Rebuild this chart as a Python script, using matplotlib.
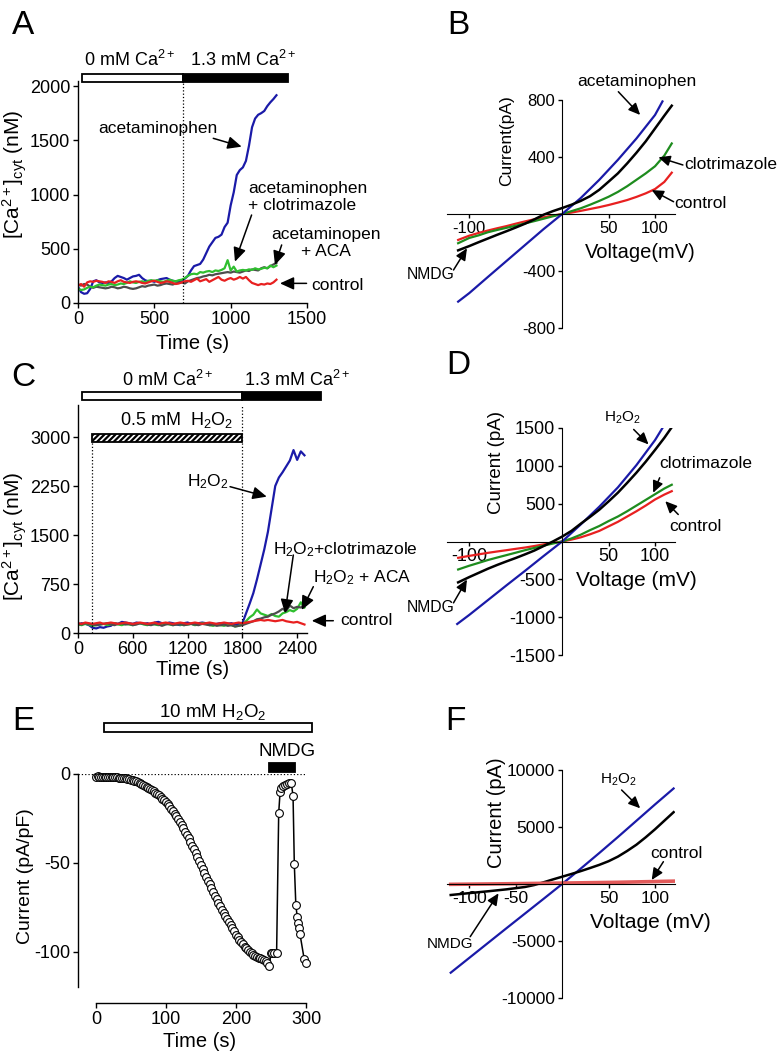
import matplotlib
matplotlib.use("Agg")
import matplotlib.pyplot as plt
from matplotlib.patches import Rectangle
import numpy as np

plt.rcParams['font.family'] = ['Liberation Sans', 'DejaVu Sans']
plt.rcParams['mathtext.fontset'] = 'custom'
plt.rcParams['mathtext.rm'] = 'Liberation Sans'
plt.rcParams['mathtext.it'] = 'Liberation Sans:italic'
plt.rcParams['mathtext.default'] = 'regular'
plt.rcParams['axes.unicode_minus'] = False
plt.rcParams['hatch.linewidth'] = 1.6

W, H = 783, 1056

# ---------------- data ----------------
# A: [Ca2+]cyt (nM), one sample every 20 s from 0 to 1300 s
t_a = np.arange(0, 1301, 20)
a_acet = [150, 100, 85, 90, 130, 200, 210, 190, 185, 190,
          185, 200, 230, 250, 240, 230, 215, 230, 245, 250,
          260, 230, 210, 200, 205, 195, 210, 220, 225, 230,
          215, 205, 200, 195, 205, 225, 250, 300, 340, 350,
          360, 400, 460, 520, 560, 600, 610, 630, 700, 740,
          900, 1020, 1180, 1225, 1250, 1310, 1450, 1620, 1700, 1735,
          1750, 1770, 1815, 1850, 1880, 1915]
a_clotri = [130, 120, 125, 140, 150, 145, 160, 170, 165, 160,
            170, 175, 165, 170, 180, 175, 185, 200, 190, 185,
            195, 200, 190, 205, 210, 205, 210, 200, 195, 205,
            215, 205, 200, 210, 215, 230, 250, 265, 270, 265,
            285, 280, 290, 295, 285, 300, 295, 305, 320, 395,
            300, 335, 290, 300, 305, 300, 310, 305, 320, 310,
            315, 325, 320, 345, 330, 345]
a_aca = [170, 160, 175, 170, 150, 140, 150, 145, 140, 135,
         140, 150, 145, 135, 140, 150, 145, 135, 130, 135,
         145, 155, 150, 160, 165, 170, 160, 165, 175, 180,
         175, 170, 180, 185, 190, 180, 200, 210, 220, 230,
         235, 245, 250, 260, 255, 265, 270, 275, 280, 285,
         280, 290, 285, 280, 290, 300, 295, 310, 305, 300,
         320, 330, 320, 340, 355, 370]
a_control = [160, 175, 150, 190, 200, 195, 205, 200, 195, 185,
             200, 195, 185, 200, 210, 195, 190, 185, 195, 200,
             195, 185, 180, 190, 200, 205, 195, 185, 190, 200,
             195, 185, 175, 180, 190, 200, 205, 195, 210, 225,
             200, 210, 220, 195, 210, 225, 240, 215, 205, 220,
             230, 215, 225, 240, 225, 240, 210, 185, 175, 165,
             175, 170, 180, 175, 190, 215]
a_bar = (26, 688, 1375)          # 0 mM Ca start, switch to 1.3 mM, end

# C: [Ca2+]cyt (nM), one sample every 40 s from 0 to 2480 s
t_c = np.arange(0, 2481, 40)
c_h2o2 = [130, 150, 140, 120, 80, 70, 90, 80, 100, 110,
          150, 140, 170, 160, 150, 140, 160, 150, 140, 150,
          130, 160, 170, 150, 140, 160, 150, 130, 120, 150,
          160, 140, 130, 150, 160, 150, 140, 120, 140, 150,
          130, 140, 150, 130, 140, 150, 300, 450, 610, 820,
          1050, 1280, 1550, 1900, 2250, 2380, 2460, 2550, 2640, 2800,
          2650, 2780, 2720]
c_aca = [130, 120, 140, 130, 110, 120, 130, 140, 120, 130,
         150, 130, 120, 140, 130, 120, 140, 150, 130, 120,
         140, 130, 120, 140, 150, 130, 120, 140, 130, 120,
         130, 140, 120, 130, 150, 140, 120, 110, 130, 120,
         110, 130, 120, 100, 110, 130, 180, 240, 280, 360,
         300, 280, 260, 290, 260, 250, 300, 320, 350, 330,
         370, 470, 390]
c_clotri = [140, 130, 150, 140, 130, 120, 130, 140, 150, 130,
            120, 140, 150, 130, 140, 120, 130, 150, 140, 130,
            120, 140, 130, 110, 130, 140, 120, 130, 140, 120,
            130, 140, 130, 120, 140, 130, 120, 130, 110, 120,
            130, 110, 120, 100, 110, 120, 140, 160, 180, 210,
            220, 240, 250, 280, 300, 330, 370, 340, 420, 380,
            400, 390, 430]
c_control = [150, 140, 160, 150, 140, 150, 160, 140, 150, 160,
             150, 140, 150, 160, 150, 140, 150, 160, 150, 140,
             150, 160, 140, 150, 160, 150, 140, 150, 160, 150,
             140, 150, 160, 150, 140, 150, 160, 150, 140, 150,
             160, 150, 140, 150, 160, 150, 160, 170, 180, 190,
             200, 190, 200, 190, 180, 190, 200, 180, 170, 160,
             170, 150, 130]
c_bar = (44, 1800, 2660)
c_h2o2_bar = (150, 1800)

# E: current density (pA/pF)
t_e_ramp = np.arange(0, 250, 2.5)
e_ramp = [-1.5, -1.4, -1.6, -1.5, -1.7, -1.6, -1.5, -1.8, -1.7, -1.6,
          -1.8, -1.7, -1.9, -2.0, -2.2, -2.0, -2.5, -2.3, -2.6, -2.9,
          -3.2, -3.5, -3.8, -4.2, -4.6, -5.0, -5.5, -6.0, -6.6, -7.2,
          -7.8, -8.4, -9.1, -9.8, -10.5, -11.3, -12.1, -13.0, -13.9, -14.9,
          -16.0, -17.1, -18.3, -19.6, -20.9, -22.3, -23.8, -25.4, -27.0, -28.7,
          -30.5, -32.4, -34.3, -36.3, -38.3, -40.4, -42.5, -44.6, -46.8, -49.0,
          -51.2, -53.4, -55.6, -57.8, -60.0, -62.2, -64.3, -66.4, -68.5, -70.6,
          -72.6, -74.6, -76.5, -78.4, -80.2, -81.9, -83.6, -85.2, -86.8, -88.3,
          -90.5, -92.0, -93.4, -94.7, -96.0, -97.2, -98.3, -99.3, -100.2, -101.0,
          -101.7, -102.3, -102.9, -103.4, -103.9, -104.4, -104.9, -105.5, -106.4, -108.0]
t_e_tail = [250, 252, 255, 258, 261, 263, 265, 267, 270, 273, 276, 279,
            281.5, 283.3, 285.5, 287.5, 288.8, 290, 291.5, 297.5, 300]
e_tail = [-101, -101, -101, -101, -22, -10, -8, -7, -6, -5.5, -5, -5,
          -12.4, -50.7, -74, -80.5, -84, -87, -90.4, -104.5, -106.7]
e_h2o2_bar = (11, 308)
e_nmdg_bar = (247, 284)

# I-V curves (mV, pA)
iv_v = [-112, -100, -90, -80, -70, -60, -50, -40, -30, -20, -10, 0,
        10, 20, 30, 40, 50, 60, 70, 80, 90, 100, 110, 118]
b_v_acet = [-112, -100, -80, -60, -40, -20, 0, 20, 40, 60, 80, 100, 108]
b_acet = [-615, -555, -442, -330, -218, -106, 0, 112, 240, 380, 530, 695, 790]
b_nmdg = [-255, -225, -198, -172, -146, -121, -95, -68, -38, -5, 20, 42,
          65, 92, 125, 170, 227, 285, 355, 430, 510, 600, 690, 760]
b_clotri = [-205, -168, -150, -128, -112, -97, -82, -66, -50, -33, -16, 0,
            20, 40, 65, 92, 121, 155, 195, 240, 285, 335, 410, 495]
b_control = [-182, -152, -133, -116, -100, -85, -68, -52, -37, -23, -11, 0,
             10, 22, 35, 48, 63, 80, 98, 120, 145, 175, 225, 290]

d_v_h2o2 = [-113, -100, -80, -60, -40, -20, 0, 20, 40, 60, 80, 100, 108]
d_h2o2 = [-1090, -970, -775, -580, -388, -192, 0, 225, 460, 715, 1010, 1340, 1500]
d_nmdg = [-540, -470, -415, -360, -310, -263, -218, -170, -120, -60, 0, 65,
          140, 235, 325, 420, 530, 645, 775, 910, 1055, 1210, 1370, 1510]
d_clotri = [-370, -320, -283, -245, -212, -180, -148, -115, -85, -55, -27, 0,
            40, 90, 150, 205, 270, 330, 400, 475, 550, 625, 700, 750]
d_control = [-216, -190, -170, -150, -132, -115, -97, -80, -60, -38, -18, 0,
             25, 55, 95, 140, 200, 260, 330, 400, 475, 555, 620, 665]

f_v_nmdg = [-120, -100, -80, -60, -40, -30, -20, -10, 0, 10, 20, 30, 40,
            50, 60, 70, 80, 90, 100, 110, 120]
f_nmdg = [-965, -800, -640, -470, -260, -90, 150, 400, 640, 880, 1130, 1400,
          1680, 2000, 2400, 2900, 3450, 4100, 4800, 5550, 6300]
f_v_h2o2 = [-120, -100, -80, -60, -40, -20, 0, 20, 40, 60, 80, 100, 120]
f_h2o2 = [-7780, -6480, -5180, -3880, -2590, -1300, 0, 1350, 2720, 4120, 5550, 6980, 8380]
f_v_control = [-120, -60, 0, 60, 120]
f_control = [-30, 20, 80, 150, 250]

BLUE = '#1a1aa8'
GREEN_A = '#2fbf2f'
GREEN_IV = '#1e8c1e'
RED = '#e82020'
GRAY = '#4d4d4d'
PINK = '#e25a5a'


def box(x0, y0, x1, y1):
    return [x0 / W, 1 - y1 / H, (x1 - x0) / W, (y1 - y0) / H]


def arrow(ax, tail, head, scale=12):
    ax.annotate('', xy=head, xytext=tail, annotation_clip=False,
                arrowprops=dict(arrowstyle='-|>,head_length=0.7,head_width=0.32',
                                mutation_scale=scale, color='k', lw=1.1,
                                shrinkA=0, shrinkB=0))


def style_time(ax):
    for s in ['top', 'right']:
        ax.spines[s].set_visible(False)
    for s in ['left', 'bottom']:
        ax.spines[s].set_linewidth(1.0)
    ax.tick_params(direction='out', length=3.5, width=1, labelsize=13, pad=2)


def style_iv(ax, ylim, yticks, xticks, size):
    ax.set_xlim(-124, 121.5)
    ax.set_ylim(*ylim)
    for s in ['top', 'right']:
        ax.spines[s].set_visible(False)
    ax.spines['left'].set_position(('data', 0))
    ax.spines['bottom'].set_position(('data', 0))
    ax.set_xticks(xticks)
    ax.set_yticks(yticks)
    ax.tick_params(direction='out', length=3, width=1, labelsize=size, pad=2)
    ax.patch.set_visible(False)


def bar(ax, x0, x1, y0, y1, color, hatch=None):
    ax.add_patch(Rectangle((x0, y0), x1 - x0, y1 - y0, facecolor=color,
                           edgecolor='k', lw=1.3, hatch=hatch, clip_on=False))


fig = plt.figure(figsize=(W / 100, H / 100), dpi=100)

# ---------------- A ----------------
ax = fig.add_axes(box(78, 80.6, 307, 303))
style_time(ax)
ax.plot(t_a, a_acet, color=BLUE, lw=1.6)
ax.plot(t_a, a_aca, color=GRAY, lw=1.6)
ax.plot(t_a, a_clotri, color=GREEN_A, lw=1.6)
ax.plot(t_a, a_control, color=RED, lw=1.6)
ax.set_xlim(0, 1500)
ax.set_ylim(0, 2050)
ax.set_xticks([0, 500, 1000, 1500])
ax.set_yticks([0, 500, 1000, 1500, 2000])
ax.vlines(a_bar[1], 0, 2040, colors='k', linestyles=':', lw=0.9)
bar(ax, a_bar[0], a_bar[1], 2040, 2110, 'white')
bar(ax, a_bar[1], a_bar[2], 2040, 2110, 'black')
ax.text(340, 2240, '0 mM Ca$^{2+}$', ha='center', va='center', fontsize=13)
ax.text(1080, 2240, '1.3 mM Ca$^{2+}$', ha='center', va='center', fontsize=13)
ax.set_xlabel('Time (s)', fontsize=14.5, va='center')
ax.xaxis.set_label_coords(0.5, -0.18)
ax.set_ylabel('[Ca$^{2+}$]$_{cyt}$ (nM)', fontsize=15, va='center')
ax.yaxis.set_label_coords(-0.275, 0.58)
ax.text(524, 1613, 'acetaminophen', ha='center', va='center', fontsize=12.5)
arrow(ax, (886, 1518), (1072, 1441))
ax.text(1115, 977, 'acetaminophen\n+ clotrimazole', ha='left', va='center',
        fontsize=12.5, linespacing=1.15)
arrow(ax, (1137, 811), (1028, 381))
ax.text(1624, 553, 'acetaminopen\n+ ACA', ha='center', va='center',
        multialignment='center', fontsize=12.5, linespacing=1.15)
arrow(ax, (1334, 535), (1290, 350))
ax.text(1530, 157, 'control', ha='left', va='center', fontsize=12.5)
arrow(ax, (1497, 181), (1323, 181))

# ---------------- B ----------------
ax = fig.add_axes(box(447, 100, 675, 328))
style_iv(ax, (-800, 800), [-800, -400, 400, 800], [-100, 50, 100], 12)
ax.plot(iv_v, b_control, color=RED, lw=1.6)
ax.plot(iv_v, b_clotri, color=GREEN_IV, lw=1.6)
ax.plot(b_v_acet, b_acet, color=BLUE, lw=1.6)
ax.plot(iv_v, b_nmdg, color='k', lw=1.8)
ax.set_ylabel('Current(pA)', fontsize=12.5, va='center')
ax.yaxis.set_label_coords(0.263, 0.82)
ax.set_xlabel('Voltage(mV)', fontsize=14.5, va='center')
ax.xaxis.set_label_coords(0.846, 0.333)
ax.text(80, 928, 'acetaminophen', ha='center', va='center', fontsize=12.5)
arrow(ax, (60.5, 858), (84, 695), 10)
ax.text(131, 344, 'clotrimazole', ha='left', va='center', fontsize=12.5)
arrow(ax, (130, 344), (103.6, 398), 10)
ax.text(121, 75, 'control', ha='left', va='center', fontsize=12.5)
arrow(ax, (120, 86), (96.4, 168), 10)
ax.text(-142, -428, 'NMDG', ha='center', va='center', fontsize=11.3)
arrow(ax, (-117, -393), (-102.5, -241), 10)

# ---------------- C ----------------
ax = fig.add_axes(box(78, 405, 307.2, 633))
style_time(ax)
ax.plot(t_c, c_h2o2, color=BLUE, lw=1.6)
ax.plot(t_c, c_aca, color=GREEN_A, lw=1.6)
ax.plot(t_c, c_clotri, color=GRAY, lw=1.6)
ax.plot(t_c, c_control, color=RED, lw=1.6)
ax.set_xlim(0, 2510)
ax.set_ylim(0, 3490)
ax.set_xticks([0, 600, 1200, 1800, 2400])
ax.set_yticks([0, 750, 1500, 2250, 3000])
ax.vlines(c_h2o2_bar[0], 0, 2920, colors='k', linestyles=':', lw=0.9)
ax.vlines(c_bar[1], 0, 3566, colors='k', linestyles=':', lw=0.9)
bar(ax, c_bar[0], c_bar[1], 3566, 3689, 'white')
bar(ax, c_bar[1], c_bar[2], 3566, 3689, 'black')
bar(ax, c_h2o2_bar[0], c_h2o2_bar[1], 2920, 3050, 'white', hatch='//////')
ax.text(975, 3873, '0 mM Ca$^{2+}$', ha='center', va='center', fontsize=13)
ax.text(2399, 3873, '1.3 mM Ca$^{2+}$', ha='center', va='center', fontsize=13)
ax.text(1084, 3260, '0.5 mM  H$_2$O$_2$', ha='center', va='center', fontsize=13)
ax.set_xlabel('Time (s)', fontsize=14.5, va='center')
ax.xaxis.set_label_coords(0.5, -0.16)
ax.set_ylabel('[Ca$^{2+}$]$_{cyt}$ (nM)', fontsize=15, va='center')
ax.yaxis.set_label_coords(-0.275, 0.425)
ax.text(1427, 2316, 'H$_2$O$_2$', ha='center', va='center', fontsize=12.5)
arrow(ax, (1665, 2240), (2067, 2087))
ax.text(2139, 1281, 'H$_2$O$_2$+clotrimazole', ha='left', va='center', fontsize=12.5)
arrow(ax, (2358, 1194), (2267, 301))
ax.text(2570, 853, 'H$_2$O$_2$ + ACA', ha='left', va='center', fontsize=12.5)
arrow(ax, (2577, 709), (2450, 352))
ax.text(2870, 188, 'control', ha='left', va='center', fontsize=12.5)
arrow(ax, (2796, 188), (2560, 188))

# ---------------- D ----------------
ax = fig.add_axes(box(447, 428, 675, 655))
style_iv(ax, (-1500, 1500), [-1500, -1000, -500, 500, 1000, 1500], [-100, 50, 100], 13)
ax.plot(iv_v, d_control, color=RED, lw=1.6)
ax.plot(iv_v, d_clotri, color=GREEN_IV, lw=1.6)
ax.plot(d_v_h2o2, d_h2o2, color=BLUE, lw=1.6)
ax.plot(iv_v, d_nmdg, color='k', lw=1.8)
ax.set_ylabel('Current (pA)', fontsize=13.5, va='center')
ax.yaxis.set_label_coords(0.219, 0.846)
ax.set_xlabel('Voltage (mV)', fontsize=15, va='center')
ax.xaxis.set_label_coords(0.829, 0.33)
ax.text(65, 1636, 'H$_2$O$_2$', ha='center', va='center', fontsize=11)
arrow(ax, (77, 1481), (93, 1283), 10)
ax.text(105, 1032, 'clotrimazole', ha='left', va='center', fontsize=12.5)
arrow(ax, (105, 842), (98, 644), 10)
ax.text(115, 203, 'control', ha='left', va='center', fontsize=12.5)
arrow(ax, (125, 357), (111, 533), 10)
ax.text(-142, -877, 'NMDG', ha='center', va='center', fontsize=11.3)
arrow(ax, (-117, -811), (-102.5, -503), 10)

# ---------------- E ----------------
ax = fig.add_axes(box(78, 774, 309.5, 987))
style_time(ax)
t_e = np.concatenate([t_e_ramp, t_e_tail])
e_cur = np.concatenate([e_ramp, e_tail])
ax.plot(t_e, e_cur, color='k', lw=1.1, marker='o', ms=5.6, mfc='white',
        mec='k', mew=0.8, clip_on=False)
ax.set_xlim(-25.7, 305)
ax.set_ylim(-120, 0)
ax.spines['bottom'].set_position(('outward', 11.5))
ax.spines['bottom'].set_bounds(0, 300)
ax.spines['left'].set_bounds(-120, 0)
ax.set_xticks([0, 100, 200, 300])
ax.set_yticks([-100, -50, 0])
ax.hlines(0, -25, 300, colors='k', linestyles=':', lw=0.9)
bar(ax, e_h2o2_bar[0], e_h2o2_bar[1], 23.6, 28.7, 'white')
bar(ax, e_nmdg_bar[0], e_nmdg_bar[1], 1.1, 6.2, 'black')
ax.text(167, 34.8, '10 mM H$_2$O$_2$', ha='center', va='center', fontsize=13.5)
ax.text(273, 12.4, 'NMDG', ha='center', va='center', fontsize=13.5)
ax.set_xlabel('Time (s)', fontsize=14.5, va='center')
ax.xaxis.set_label_coords(0.526, -0.258)
ax.set_ylabel('Current (pA/pF)', fontsize=14, va='center')
ax.yaxis.set_label_coords(-0.225, 0.521)

# ---------------- F ----------------
ax = fig.add_axes(box(447, 770, 675, 998))
style_iv(ax, (-10000, 10000), [-10000, -5000, 5000, 10000], [-100, -50, 50, 100], 12.5)
ax.plot(f_v_h2o2, f_h2o2, color=BLUE, lw=1.6)
ax.plot(f_v_nmdg, f_nmdg, color='k', lw=1.8)
ax.plot(f_v_control, f_control, color=PINK, lw=2.6)
ax.set_ylabel('Current (pA)', fontsize=14.5, va='center')
ax.yaxis.set_label_coords(0.218, 0.811)
ax.set_xlabel('Voltage (mV)', fontsize=15, va='center')
ax.xaxis.set_label_coords(0.89, 0.333)
ax.text(60.5, 9184, 'H$_2$O$_2$', ha='center', va='center', fontsize=11)
arrow(ax, (64, 8246), (84, 6640), 10)
ax.text(122.6, 2693, 'control', ha='center', va='center', fontsize=12.5)
arrow(ax, (109, 1956), (96.4, 351), 10)
ax.text(-121, -5263, 'NMDG', ha='center', va='center', fontsize=11)
arrow(ax, (-99, -4620), (-68.5, -816), 10)

# panel letters
for letter, px, py in [('A', 23, 25), ('B', 458, 25), ('C', 23, 378),
                       ('D', 458, 365), ('E', 23, 722), ('F', 455, 722)]:
    fig.text(px / W, 1 - py / H, letter, fontsize=24, ha='center', va='center')

fig.savefig('out.png', dpi=100)
